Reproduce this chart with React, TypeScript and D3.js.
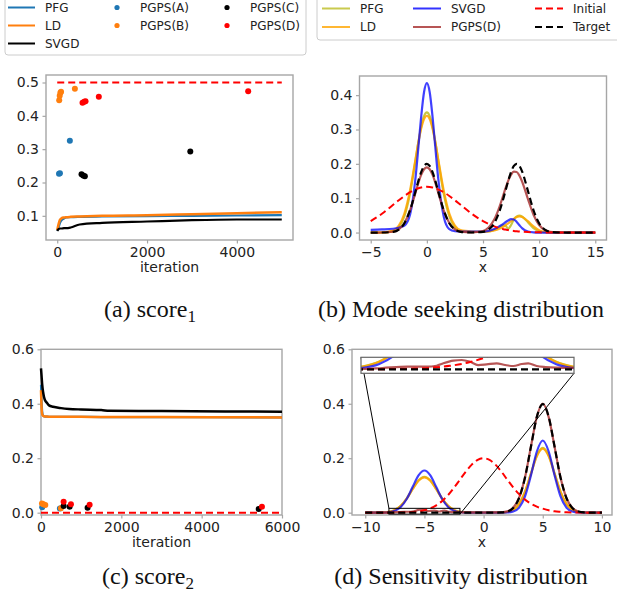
import React, { useEffect, useRef } from 'react'
import * as d3 from 'd3'

// ---------- (a) score1 ----------
const iterA = [0, 30, 60, 100, 150, 200, 300, 500, 1000, 2000, 3000, 4000, 5000]
const pfgA = [0.055, 0.066, 0.078, 0.087, 0.092, 0.095, 0.096, 0.097, 0.098, 0.099, 0.1, 0.101, 0.102]
const ldA = [0.057, 0.075, 0.088, 0.093, 0.095, 0.096, 0.097, 0.098, 0.1, 0.102, 0.105, 0.108, 0.111]
const svgdA = [0.055, 0.06, 0.062, 0.062, 0.063, 0.063, 0.065, 0.074, 0.079, 0.083, 0.087, 0.089, 0.089]
const refA = [[0, 0.5], [5000, 0.5]]
const pgpsAa = [[40, 0.226], [60, 0.228], [281, 0.325]]
const pgpsBa = [[44, 0.447], [55, 0.46], [70, 0.469], [85, 0.472], [393, 0.481]]
const pgpsCa = [[541, 0.225], [578, 0.221], [615, 0.219], [2963, 0.293]]
const pgpsDa = [[563, 0.439], [600, 0.442], [630, 0.444], [926, 0.457], [4252, 0.474]]

// ---------- (c) score2 ----------
const iterC = [0, 15, 30, 50, 75, 100, 150, 200, 300, 500, 700, 1000, 1500, 1700, 3000, 6000]
const svgdC = [0.53, 0.5, 0.47, 0.445, 0.425, 0.413, 0.403, 0.394, 0.389, 0.384, 0.381, 0.379, 0.377, 0.374, 0.373, 0.371]
const ldC = [0.45, 0.385, 0.362, 0.356, 0.354, 0.353, 0.353, 0.352, 0.352, 0.352, 0.352, 0.352, 0.351, 0.351, 0.351, 0.35]
const pfgC = [0.47, 0.41, 0.37, 0.357, 0.354, 0.353, 0.353, 0.352, 0.352, 0.352, 0.352, 0.352, 0.351, 0.351, 0.351, 0.35]
const refC = [[0, 0], [6000, 0]]
const pgpsAc = [[30, 0.02], [470, 0.015]]
const pgpsBc = [[24, 0.034], [60, 0.031], [107, 0.028], [497, 0.016]]
const pgpsCc = [[563, 0.0245], [712, 0.022], [1160, 0.018], [5420, 0.0135]]
const pgpsDc = [[563, 0.04], [745, 0.031], [1210, 0.029], [5500, 0.022]]

// ---------- (b) mode seeking distribution ----------
const xB = [-5, -4, -3, -2.5, -2, -1.5, -1, -0.75, -0.5, -0.25, 0, 0.25, 0.5, 0.75, 1, 1.5, 2, 2.5, 3, 4,
  5, 5.5, 6, 6.5, 6.75, 7, 7.25, 7.5, 7.75, 8, 8.25, 8.5, 9, 9.5, 10, 10.5, 11, 12, 13, 15]
const pfgB = [0, 0.0001, 0.0039, 0.0154, 0.0474, 0.1136, 0.2123, 0.2642, 0.3089, 0.3391, 0.35, 0.3391, 0.3089, 0.2642, 0.2123, 0.1136, 0.0474, 0.0154, 0.0045, 0.002,
  0.002, 0.003, 0.008, 0.015, 0.021, 0.02, 0.011, 0.022, 0.038, 0.047, 0.049, 0.046, 0.03, 0.013, 0.004, 0.001, 0, 0, 0, 0]
const ldB = [0, 0.0002, 0.0057, 0.02, 0.0554, 0.1225, 0.216, 0.2635, 0.3036, 0.3305, 0.34, 0.3305, 0.3036, 0.2635, 0.216, 0.1225, 0.0554, 0.02, 0.007, 0.003,
  0.002, 0.003, 0.006, 0.012, 0.016, 0.021, 0.027, 0.033, 0.04, 0.045, 0.047, 0.045, 0.033, 0.018, 0.007, 0.002, 0.0005, 0, 0, 0]
const svgdB = [0.008, 0.009, 0.011, 0.014, 0.02, 0.052, 0.163, 0.25, 0.339, 0.409, 0.435, 0.409, 0.339, 0.249, 0.161, 0.047, 0.01, 0.004, 0.003, 0.003,
  0.003, 0.005, 0.01, 0.019, 0.024, 0.03, 0.035, 0.039, 0.038, 0.031, 0.021, 0.012, 0.003, 0.0005, 0, 0, 0, 0, 0, 0]
const pgpsB = [0, 0.0001, 0.0025, 0.0094, 0.0278, 0.0644, 0.1175, 0.145, 0.1685, 0.1843, 0.19, 0.1843, 0.1685, 0.145, 0.1175, 0.0644, 0.0278, 0.0094, 0.0025, 0.0003,
  0.0045, 0.0146, 0.0377, 0.0779, 0.1028, 0.1283, 0.1512, 0.1684, 0.1772, 0.1762, 0.1655, 0.147, 0.0977, 0.0518, 0.0219, 0.0074, 0.002, 0.0001, 0, 0]
const initialB = [0.0332, 0.0547, 0.0807, 0.094, 0.1065, 0.1174, 0.1258, 0.1289, 0.1312, 0.1325, 0.133, 0.1325, 0.1312, 0.1289, 0.1258, 0.1174, 0.1065, 0.094, 0.0807, 0.0547,
  0.0332, 0.0248, 0.018, 0.0127, 0.0106, 0.0087, 0.0072, 0.0058, 0.0047, 0.0038, 0.003, 0.0024, 0.0015, 0.0009, 0.0005, 0.0003, 0.0002, 0, 0, 0]
const targetB = [0, 0.0001, 0.0022, 0.0088, 0.0271, 0.0649, 0.1213, 0.151, 0.1765, 0.1938, 0.2, 0.1938, 0.1765, 0.151, 0.1213, 0.0649, 0.0271, 0.0088, 0.0022, 0.0002,
  0.0022, 0.0088, 0.0271, 0.0649, 0.0916, 0.1213, 0.151, 0.1765, 0.1938, 0.2, 0.1938, 0.1765, 0.1213, 0.0649, 0.0271, 0.0088, 0.0022, 0.0001, 0, 0]

// ---------- (d) sensitivity distribution ----------
const xD = [-10, -9.5, -9, -8.5, -8, -7.5, -7, -6.5, -6, -5.5, -5, -4.5, -4, -3.5, -3, -2.5, -2, -1.5, -1, -0.5,
  0, 0.5, 1, 1.5, 2, 2.5, 3, 3.5, 4, 4.5, 5, 5.5, 6, 6.5, 7, 7.5, 8, 8.5, 9, 9.5, 10]
const pfgD = [0, 0, 0.0002, 0.0008, 0.0033, 0.01, 0.0253, 0.052, 0.0872, 0.119, 0.132, 0.119, 0.0872, 0.052, 0.0253, 0.01, 0.0033, 0.0008, 0.0002, 0,
  0, 0, 0.0001, 0.0005, 0.0026, 0.0104, 0.0322, 0.0773, 0.1443, 0.21, 0.238, 0.21, 0.1443, 0.0773, 0.0322, 0.0104, 0.0026, 0.0005, 0.0001, 0, 0]
const ldD = [0, 0, 0.0002, 0.0008, 0.0032, 0.0098, 0.0249, 0.0513, 0.086, 0.1172, 0.13, 0.1172, 0.086, 0.0513, 0.0249, 0.0098, 0.0032, 0.0008, 0.0002, 0,
  0, 0, 0.0001, 0.0005, 0.0026, 0.0103, 0.0318, 0.0763, 0.1425, 0.2074, 0.235, 0.2074, 0.1425, 0.0763, 0.0318, 0.0103, 0.0026, 0.0005, 0.0001, 0, 0]
const svgdD = [0, 0, 0, 0.0003, 0.0017, 0.0068, 0.021, 0.0503, 0.094, 0.1368, 0.155, 0.1368, 0.094, 0.0503, 0.021, 0.0068, 0.0017, 0.0003, 0.0001, 0,
  0, 0, 0, 0.0001, 0.0007, 0.0043, 0.0188, 0.06, 0.137, 0.2247, 0.265, 0.2247, 0.137, 0.06, 0.0188, 0.0043, 0.0007, 0.0001, 0, 0, 0]
const initialD = [0, 0, 0, 0, 0.0001, 0.0002, 0.0004, 0.001, 0.0022, 0.0046, 0.0088, 0.0159, 0.0271, 0.0433, 0.0649, 0.0916, 0.1213, 0.151, 0.1765, 0.1938,
  0.2, 0.1938, 0.1765, 0.151, 0.1213, 0.093, 0.068, 0.048, 0.033, 0.022, 0.015, 0.009, 0.005, 0.003, 0.0015, 0.0008, 0.0004, 0.0002, 0, 0, 0]
const targetD = [0, 0, 0, 0, 0, 0, 0, 0, 0, 0, 0, 0, 0, 0, 0, 0, 0, 0, 0, 0,
  0, 0, 0.0001, 0.0009, 0.0044, 0.0175, 0.054, 0.1295, 0.242, 0.352, 0.399, 0.352, 0.242, 0.1295, 0.054, 0.0175, 0.0044, 0.0009, 0.0001, 0, 0]
const xPgpsD = [-10, -9, -8, -7.4, -6.7, -6.15, -5.87, -5.68, -5.4, -5.16, -4.93, -4.7, -4.46, -4.18, -3.94, -3.71, -3.47, -3.29, -3.05, -2.8, -2.5, -2,
  -1, 0, 1, 1.5, 2, 2.5, 3, 3.5, 4, 4.5, 5, 5.5, 6, 6.5, 7, 7.5, 8, 8.5, 9, 10]
const pgpsD = [0, 0.0001, 0.0004, 0.0017, 0.0035, 0.0035, 0.0048, 0.008, 0.0115, 0.0124, 0.0101, 0.0057, 0.0066, 0.008, 0.0057, 0.0044, 0.0071, 0.008, 0.0044, 0.003, 0.0022, 0.0018,
  0.001, 0.0006, 0.0008, 0.0016, 0.0048, 0.018, 0.055, 0.13, 0.243, 0.352, 0.401, 0.351, 0.241, 0.129, 0.054, 0.0175, 0.0045, 0.001, 0.0002, 0]

const FONT = '"DejaVu Sans", sans-serif'
const SERIF = '"Liberation Serif", "Times New Roman", serif'
const SPINE = '#a6a6a6'
const TAB_BLUE = '#1f77b4'
const TAB_ORANGE = '#ff7f0e'

const zip = (xs: number[], ys: number[]) => xs.map((x, i) => [x, ys[i]])

function drawFrame(g: any, x: any, y: any, xTicks: number[], yTicks: number[], xFmt: any, yFmt: any, xLabel: string) {
  const [l, r] = x.range()
  const [b, t] = y.range()
  const gx = g.append('g').attr('transform', `translate(0,${b})`)
    .call(d3.axisBottom(x).tickValues(xTicks).tickFormat(xFmt).tickSize(3.5).tickPadding(3.5))
  const gy = g.append('g').attr('transform', `translate(${l},0)`)
    .call(d3.axisLeft(y).tickValues(yTicks).tickFormat(yFmt).tickSize(3.5).tickPadding(3.5))
  ;[gx, gy].forEach(a => {
    a.select('.domain').remove()
    a.selectAll('line').attr('stroke', SPINE).attr('stroke-width', 1.2)
    a.selectAll('text').attr('fill', '#222').attr('font-size', 14).attr('font-family', FONT)
  })
  g.append('rect')
    .attr('x', l).attr('y', t).attr('width', r - l).attr('height', b - t)
    .attr('fill', 'none').attr('stroke', SPINE).attr('stroke-width', 1.4)
  g.append('text')
    .attr('x', (l + r) / 2).attr('y', b + 32)
    .attr('text-anchor', 'middle').attr('font-size', 14).attr('font-family', FONT).attr('fill', '#222')
    .text(xLabel)
}

function drawLine(g: any, x: any, y: any, pts: number[][], color: string, width: number, opts: any = {}) {
  const line = d3.line().x((d: any) => x(d[0])).y((d: any) => y(d[1])).curve(d3.curveMonotoneX)
  g.append('path')
    .datum(pts)
    .attr('fill', 'none')
    .attr('stroke', color)
    .attr('stroke-width', width)
    .attr('stroke-opacity', opts.opacity ?? 1)
    .attr('stroke-dasharray', opts.dash ?? null)
    .attr('d', line)
}

function drawDots(g: any, x: any, y: any, pts: number[][], color: string) {
  g.selectAll(null).data(pts).enter().append('circle')
    .attr('cx', (d: number[]) => x(d[0])).attr('cy', (d: number[]) => y(d[1]))
    .attr('r', 3).attr('fill', color)
}

function drawCaption(g: any, cx: number, baseline: number, main: string, sub: string | null) {
  const t = g.append('text').attr('x', cx).attr('y', baseline)
    .attr('text-anchor', 'middle').attr('font-family', SERIF).attr('font-size', 24).attr('fill', '#111')
  t.append('tspan').text(main)
  if (sub) t.append('tspan').attr('dy', 5).attr('font-size', 17).text(sub)
}

function App() {
  const ref = useRef<SVGSVGElement>(null)

  useEffect(() => {
    const svg = d3.select(ref.current)
    svg.selectAll('*').remove()
    const fmt1 = d3.format('.1f')
    const fmtInt = d3.format('d')

    // ---- legend (a) ----
    const legA = svg.append('g')
    legA.append('rect').attr('x', 5).attr('y', -6).attr('width', 301).attr('height', 61).attr('rx', 3)
      .attr('fill', 'white').attr('stroke', '#cccccc')
    const legALines = [['PFG', TAB_BLUE], ['LD', TAB_ORANGE], ['SVGD', '#000']]
    legALines.forEach(([name, c], i) => {
      const yy = 7.5 + i * 18
      legA.append('line').attr('x1', 8).attr('x2', 35).attr('y1', yy).attr('y2', yy).attr('stroke', c).attr('stroke-width', 2)
      legA.append('text').attr('x', 45).attr('y', yy).attr('dy', '0.36em').attr('font-size', 12).attr('font-family', FONT).attr('fill', '#222').text(name)
    })
    const legADots = [['PGPS(A)', TAB_BLUE, 117, 0], ['PGPS(B)', TAB_ORANGE, 117, 1], ['PGPS(C)', '#000', 227, 0], ['PGPS(D)', '#ff0000', 227, 1]]
    legADots.forEach(([name, c, cx, row]: any) => {
      const yy = 7.5 + row * 18
      legA.append('circle').attr('cx', cx).attr('cy', yy).attr('r', 2.6).attr('fill', c)
      legA.append('text').attr('x', cx + 23).attr('y', yy).attr('dy', '0.36em').attr('font-size', 12).attr('font-family', FONT).attr('fill', '#222').text(name)
    })

    // ---- legend (b) ----
    const legB = svg.append('g')
    legB.append('rect').attr('x', 317).attr('y', -6).attr('width', 310).attr('height', 46).attr('rx', 3)
      .attr('fill', 'white').attr('stroke', '#cccccc')
    const legBItems = [
      ['PFG', '#bcbd22', 322, 0, null], ['LD', '#ffa500', 322, 1, null],
      ['SVGD', '#0000ff', 413, 0, null], ['PGPS(D)', '#a52a2a', 413, 1, null],
      ['Initial', '#ff0000', 535, 0, '7,4'], ['Target', '#000', 535, 1, '7,4'],
    ]
    legBItems.forEach(([name, c, x0, row, dash]: any) => {
      const yy = 8.5 + row * 18.5
      legB.append('line').attr('x1', x0).attr('x2', x0 + 28).attr('y1', yy).attr('y2', yy)
        .attr('stroke', c).attr('stroke-width', 2).attr('stroke-opacity', dash ? 1 : 0.8).attr('stroke-dasharray', dash)
      legB.append('text').attr('x', x0 + 38).attr('y', yy).attr('dy', '0.36em').attr('font-size', 12).attr('font-family', FONT).attr('fill', '#222').text(name)
    })

    // ---- (a) ----
    const xA = d3.scaleLinear().domain([-250, 5250]).range([46, 293])
    const yA = d3.scaleLinear().domain([0.0275, 0.5225]).range([240, 75])
    const gA = svg.append('g')
    drawFrame(gA, xA, yA, [0, 2000, 4000], [0.1, 0.2, 0.3, 0.4, 0.5], fmtInt, fmt1, 'iteration')
    drawLine(gA, xA, yA, zip(iterA, pfgA), TAB_BLUE, 2.2)
    drawLine(gA, xA, yA, zip(iterA, ldA), TAB_ORANGE, 2.5)
    drawLine(gA, xA, yA, zip(iterA, svgdA), '#000', 2.2)
    drawLine(gA, xA, yA, refA, '#ff0000', 2, { dash: '7,4' })
    drawDots(gA, xA, yA, pgpsAa, TAB_BLUE)
    drawDots(gA, xA, yA, pgpsBa, TAB_ORANGE)
    drawDots(gA, xA, yA, pgpsCa, '#000')
    drawDots(gA, xA, yA, pgpsDa, '#ff0000')

    // ---- (b) ----
    const xBs = d3.scaleLinear().domain([-6, 16]).range([359.5, 606.5])
    const yBs = d3.scaleLinear().domain([-0.0217, 0.4557]).range([240, 76])
    const gB = svg.append('g')
    drawFrame(gB, xBs, yBs, [-5, 0, 5, 10, 15], [0, 0.1, 0.2, 0.3, 0.4], fmtInt, fmt1, 'x')
    drawLine(gB, xBs, yBs, zip(xB, pfgB), '#bcbd22', 2.2, { opacity: 0.85 })
    drawLine(gB, xBs, yBs, zip(xB, ldB), '#ffa500', 2.2, { opacity: 0.85 })
    drawLine(gB, xBs, yBs, zip(xB, svgdB), '#0000ff', 2.2, { opacity: 0.75 })
    drawLine(gB, xBs, yBs, zip(xB, pgpsB), '#a52a2a', 2.2, { opacity: 0.8 })
    drawLine(gB, xBs, yBs, zip(xB, initialB), '#ff0000', 2, { dash: '7,4' })
    drawLine(gB, xBs, yBs, zip(xB, targetB), '#000', 2.2, { dash: '7,4' })

    // ---- (c) ----
    const xC = d3.scaleLinear().domain([0, 6000]).range([41, 282])
    const yC = d3.scaleLinear().domain([-0.0085, 0.6]).range([515, 349.3])
    const gC = svg.append('g')
    drawFrame(gC, xC, yC, [0, 2000, 4000, 6000], [0, 0.2, 0.4, 0.6], fmtInt, fmt1, 'iteration')
    drawLine(gC, xC, yC, zip(iterC, pfgC), TAB_BLUE, 2.2)
    drawLine(gC, xC, yC, zip(iterC, ldC), TAB_ORANGE, 2.5)
    drawLine(gC, xC, yC, zip(iterC, svgdC), '#000', 2.5)
    drawLine(gC, xC, yC, refC, '#ff0000', 2, { dash: '7,4' })
    drawDots(gC, xC, yC, pgpsAc, TAB_BLUE)
    drawDots(gC, xC, yC, pgpsBc, TAB_ORANGE)
    drawDots(gC, xC, yC, pgpsCc, '#000')
    drawDots(gC, xC, yC, pgpsDc, '#ff0000')

    // ---- (d) ----
    const xDs = d3.scaleLinear().domain([-11.12, 10.85]).range([352, 612])
    const yDs = d3.scaleLinear().domain([-0.0085, 0.6]).range([515, 349.3])
    const gD = svg.append('g')
    drawFrame(gD, xDs, yDs, [-10, -5, 0, 5, 10], [0, 0.2, 0.4, 0.6], fmtInt, fmt1, 'x')
    const curvesD = (g: any, x: any, y: any) => {
      drawLine(g, x, y, zip(xD, pfgD), '#bcbd22', 2.2, { opacity: 0.85 })
      drawLine(g, x, y, zip(xD, ldD), '#ffa500', 2.2, { opacity: 0.85 })
      drawLine(g, x, y, zip(xD, svgdD), '#0000ff', 2.2, { opacity: 0.75 })
      drawLine(g, x, y, zip(xPgpsD, pgpsD), '#a52a2a', 2.2, { opacity: 0.8 })
      drawLine(g, x, y, zip(xD, initialD), '#ff0000', 2, { dash: '7,4' })
      drawLine(g, x, y, zip(xD, targetD), '#000', 2.2, { dash: '7,4' })
    }
    curvesD(gD, xDs, yDs)

    // inset: zoom on x in [-8, -2]
    const inX = d3.scaleLinear().domain([-8, -2]).range([361, 574])
    const inY = d3.scaleLinear().domain([-0.0053, 0.016]).range([373.3, 357.3])
    const [ix0, ix1] = inX.range()
    const [iy1, iy0] = inY.range()
    // marked region and connectors
    gD.append('rect')
      .attr('x', xDs(-8)).attr('y', yDs(0.016)).attr('width', xDs(-2) - xDs(-8)).attr('height', yDs(-0.0053) - yDs(0.016))
      .attr('fill', 'none').attr('stroke', '#000').attr('stroke-width', 1)
    gD.append('line').attr('x1', ix0).attr('y1', iy0).attr('x2', xDs(-8)).attr('y2', yDs(0.016)).attr('stroke', '#000').attr('stroke-width', 1)
    gD.append('line').attr('x1', ix1).attr('y1', iy1).attr('x2', xDs(-2)).attr('y2', yDs(-0.0053)).attr('stroke', '#000').attr('stroke-width', 1)

    svg.append('clipPath').attr('id', 'inset-clip').append('rect')
      .attr('x', ix0).attr('y', iy0).attr('width', ix1 - ix0).attr('height', iy1 - iy0)
    const gIn = svg.append('g')
    gIn.append('rect').attr('x', ix0).attr('y', iy0).attr('width', ix1 - ix0).attr('height', iy1 - iy0).attr('fill', 'white')
    const gInC = gIn.append('g').attr('clip-path', 'url(#inset-clip)')
    curvesD(gInC, inX, inY)
    gIn.append('rect').attr('x', ix0).attr('y', iy0).attr('width', ix1 - ix0).attr('height', iy1 - iy0)
      .attr('fill', 'none').attr('stroke', '#666').attr('stroke-width', 1.2)

    // ---- captions ----
    drawCaption(svg, 150, 317, '(a) score', '1')
    drawCaption(svg, 461, 317, '(b) Mode seeking distribution', null)
    drawCaption(svg, 148, 584, '(c) score', '2')
    drawCaption(svg, 461, 584, '(d) Sensitivity distribution', null)
  }, [])

  return (
    <svg
      ref={ref}
      width={617}
      height={598}
      style={{ position: 'absolute', left: 0, top: 0, background: 'white', display: 'block' }}
    />
  )
}

export default App
